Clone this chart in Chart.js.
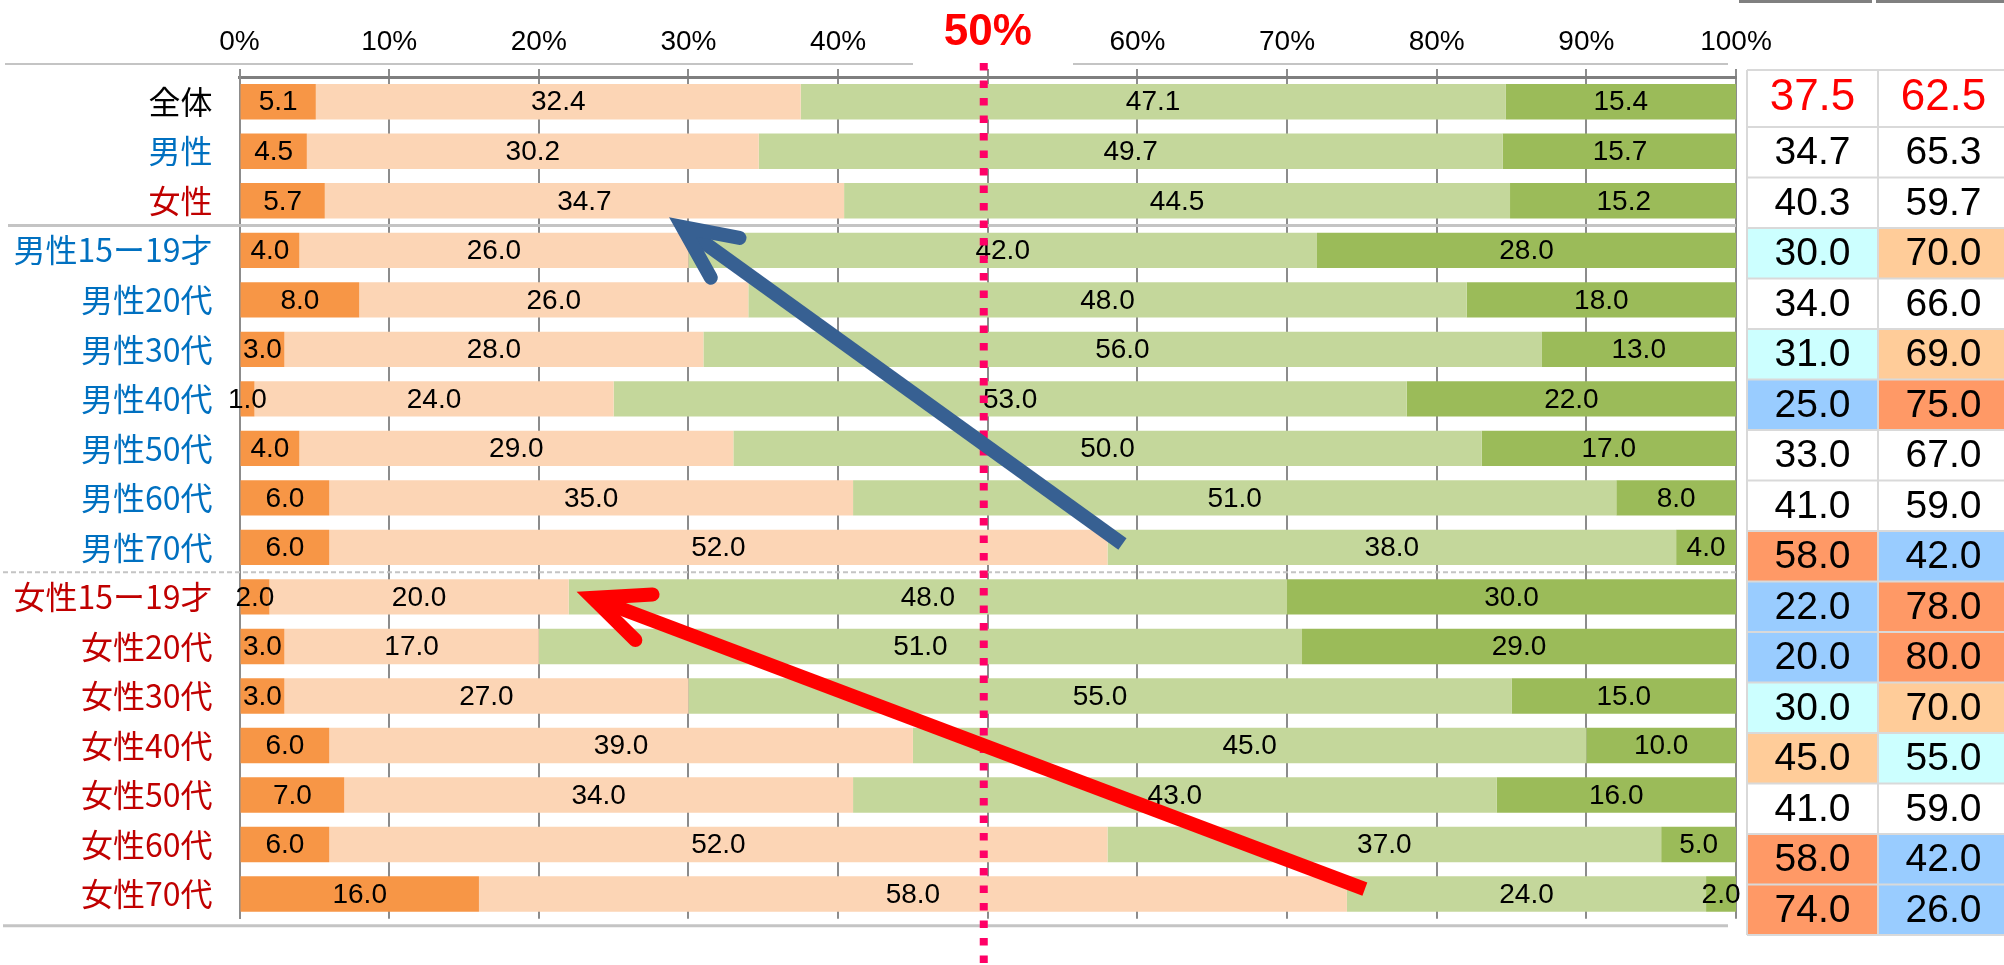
<!DOCTYPE html>
<html>
<head>
<meta charset="utf-8">
<script src="https://cdn.jsdelivr.net/npm/chart.js@4.4.1/dist/chart.umd.min.js"></script>
<style>
  html, body { margin: 0; padding: 0; background: #fff; }
  canvas { display: block; }
</style>
</head>
<body>
<canvas id="chart" width="2004" height="965"></canvas>
<script>
// categories (rows top to bottom)
var categories = ['全体', '男性', '女性',
    '男性15ー19才', '男性20代', '男性30代', '男性40代', '男性50代', '男性60代', '男性70代',
    '女性15ー19才', '女性20代', '女性30代', '女性40代', '女性50代', '女性60代', '女性70代'];

// four answer groups, % of each row
var seriesA = [5.1, 4.5, 5.7, 4.0, 8.0, 3.0, 1.0, 4.0, 6.0, 6.0, 2.0, 3.0, 3.0, 6.0, 7.0, 6.0, 16.0];
var seriesB = [32.4, 30.2, 34.7, 26.0, 26.0, 28.0, 24.0, 29.0, 35.0, 52.0, 20.0, 17.0, 27.0, 39.0, 34.0, 52.0, 58.0];
var seriesC = [47.1, 49.7, 44.5, 42.0, 48.0, 56.0, 53.0, 50.0, 51.0, 38.0, 48.0, 51.0, 55.0, 45.0, 43.0, 37.0, 24.0];
var seriesD = [15.4, 15.7, 15.2, 28.0, 18.0, 13.0, 22.0, 17.0, 8.0, 4.0, 30.0, 29.0, 15.0, 10.0, 16.0, 5.0, 2.0];

// summary table on the right
var tableLeft = [37.5, 34.7, 40.3, 30.0, 34.0, 31.0, 25.0, 33.0, 41.0, 58.0, 22.0, 20.0, 30.0, 45.0, 41.0, 58.0, 74.0];
var tableRight = [62.5, 65.3, 59.7, 70.0, 66.0, 69.0, 75.0, 67.0, 59.0, 42.0, 78.0, 80.0, 70.0, 55.0, 59.0, 42.0, 26.0];

// x axis ticks
var tickValues = [0, 10, 20, 30, 40, 50, 60, 70, 80, 90, 100];

// arrows, in (value %, row index)
var blueArrow = { from: [59.0, 8.93], to: [29.6, 2.53] };
var redArrow = { from: [75.2, 15.9], to: [23.6, 10.02] };

var W = '#FFFFFF', CY = '#CCFFFF', LO = '#FFCC99', BL = '#99CCFF', OR = '#FF9966';
var cellFill = [
    [W, W], [W, W], [W, W], [CY, LO], [W, W], [CY, LO], [BL, OR], [W, W], [W, W], [OR, BL],
    [BL, OR], [BL, OR], [CY, LO], [LO, CY], [W, W], [OR, BL], [OR, BL]
];

function labelColor(name) {
    if (name.indexOf('男性') === 0) return '#0070C0';
    if (name.indexOf('女性') === 0) return '#C00000';
    return '#000000';
}

function drawArrow(ctx, x1, y1, x2, y2, color, width, headLen, headAng) {
    var a = Math.atan2(y1 - y2, x1 - x2);
    ctx.save();
    ctx.strokeStyle = color;
    ctx.lineWidth = width;
    ctx.lineCap = 'butt';
    ctx.beginPath();
    ctx.moveTo(x1, y1);
    ctx.lineTo(x2 + 8 * Math.cos(a), y2 + 8 * Math.sin(a));
    ctx.stroke();
    ctx.lineCap = 'round';
    ctx.lineJoin = 'miter';
    ctx.beginPath();
    ctx.moveTo(x2 + headLen * Math.cos(a + headAng), y2 + headLen * Math.sin(a + headAng));
    ctx.lineTo(x2, y2);
    ctx.lineTo(x2 + headLen * Math.cos(a - headAng), y2 + headLen * Math.sin(a - headAng));
    ctx.stroke();
    ctx.restore();
}

var extrasPlugin = {
    id: 'extras',
    beforeDatasetsDraw: function (chart) {
        var ctx = chart.ctx, y = chart.scales.y, area = chart.chartArea;
        function gapY(i) { return (y.getPixelForValue(i - 1) + y.getPixelForValue(i)) / 2; }
        ctx.save();
        ctx.strokeStyle = '#C4C4C4';
        ctx.lineWidth = 3;
        ctx.beginPath();
        ctx.moveTo(8, gapY(3));
        ctx.lineTo(area.right, gapY(3));
        ctx.stroke();
        ctx.lineWidth = 2;
        ctx.setLineDash([5, 3]);
        ctx.beginPath();
        ctx.moveTo(3, gapY(10));
        ctx.lineTo(area.right, gapY(10));
        ctx.stroke();
        ctx.restore();
    },
    afterDraw: function (chart) {
        var ctx = chart.ctx, x = chart.scales.x, y = chart.scales.y, area = chart.chartArea;

        // light lines above and below the plot
        ctx.save();
        ctx.strokeStyle = '#C4C4C4';
        ctx.lineWidth = 2;
        ctx.beginPath();
        ctx.moveTo(5, 64); ctx.lineTo(913, 64);
        ctx.moveTo(1073, 64); ctx.lineTo(area.right - 8, 64);
        ctx.stroke();
        ctx.lineWidth = 3;
        ctx.beginPath();
        ctx.moveTo(3, area.bottom + 7); ctx.lineTo(area.right - 8, area.bottom + 7);
        ctx.stroke();
        ctx.restore();

        // value labels inside the bars
        ctx.save();
        ctx.font = '28px "Liberation Sans", Arial, sans-serif';
        ctx.fillStyle = '#000';
        ctx.textAlign = 'center';
        ctx.textBaseline = 'middle';
        chart.data.datasets.forEach(function (ds, di) {
            chart.getDatasetMeta(di).data.forEach(function (bar, i) {
                ctx.fillText(ds.data[i].toFixed(1), (bar.x + bar.base) / 2, bar.y + 1);
            });
        });
        ctx.restore();

        // 50% marker line
        var px = x.getPixelForValue(50) - 4;
        ctx.save();
        ctx.strokeStyle = '#FF0066';
        ctx.lineWidth = 8;
        ctx.setLineDash([7.5, 10]);
        ctx.beginPath();
        ctx.moveTo(px, 63);
        ctx.lineTo(px, chart.height);
        ctx.stroke();
        ctx.restore();

        // arrows
        drawArrow(ctx, x.getPixelForValue(blueArrow.from[0]), y.getPixelForValue(blueArrow.from[1]),
            x.getPixelForValue(blueArrow.to[0]), y.getPixelForValue(blueArrow.to[1]),
            '#376092', 14, 58, 25 * Math.PI / 180);
        drawArrow(ctx, x.getPixelForValue(redArrow.from[0]), y.getPixelForValue(redArrow.from[1]),
            x.getPixelForValue(redArrow.to[0]), y.getPixelForValue(redArrow.to[1]),
            '#FF0000', 14, 60, 24 * Math.PI / 180);

        // table on the right
        var tx0 = area.right + 11, colW = 131, ty0 = 70, h0 = 57, rh = 50.5;
        ctx.save();
        ctx.fillStyle = '#808080';
        ctx.fillRect(area.right + 3, 0, 133, 3);
        ctx.fillRect(area.right + 140, 0, 140, 3);
        ctx.textAlign = 'center';
        ctx.textBaseline = 'middle';
        for (var r = 0; r < categories.length; r++) {
            var top = r === 0 ? ty0 : ty0 + h0 + (r - 1) * rh;
            var h = r === 0 ? h0 : rh;
            var vals = [tableLeft[r], tableRight[r]];
            for (var c = 0; c < 2; c++) {
                var cx = tx0 + c * colW;
                ctx.fillStyle = cellFill[r][c];
                ctx.fillRect(cx, top, colW, h);
                ctx.fillStyle = r === 0 ? '#FF0000' : '#000000';
                ctx.font = (r === 0 ? '44px' : '39px') + ' "Liberation Sans", Arial, sans-serif';
                ctx.fillText(vals[c].toFixed(1), cx + colW / 2, top + h / 2 + (r === 0 ? -1 : 1));
            }
        }
        ctx.strokeStyle = '#D9D9D9';
        ctx.lineWidth = 2;
        ctx.beginPath();
        var bottom = ty0 + h0 + (categories.length - 1) * rh;
        for (var r2 = 0; r2 <= categories.length; r2++) {
            var ly = r2 === 0 ? ty0 : ty0 + h0 + (r2 - 1) * rh;
            ctx.moveTo(tx0, ly); ctx.lineTo(tx0 + 2 * colW + 10, ly);
        }
        for (var c2 = 0; c2 <= 2; c2++) {
            ctx.moveTo(tx0 + c2 * colW, ty0); ctx.lineTo(tx0 + c2 * colW, bottom);
        }
        ctx.stroke();
        ctx.restore();
    }
};

var barColors = ['#F79646', '#FCD5B5', '#C4D79B', '#9BBB59'];
var seriesList = [seriesA, seriesB, seriesC, seriesD];

new Chart(document.getElementById('chart').getContext('2d'), {
    type: 'bar',
    data: {
        labels: categories,
        datasets: seriesList.map(function (s, i) {
            return {
                data: s,
                backgroundColor: barColors[i],
                borderWidth: 0,
                barPercentage: 0.714,
                categoryPercentage: 1.0
            };
        })
    },
    options: {
        indexAxis: 'y',
        responsive: false,
        animation: false,
        devicePixelRatio: 1,
        layout: { padding: { top: 0, left: 0, right: 268, bottom: 35 } },
        plugins: {
            legend: { display: false },
            tooltip: { enabled: false }
        },
        scales: {
            x: {
                position: 'top',
                stacked: true,
                min: 0,
                max: 100,
                afterFit: function (s) { s.height = 77; },
                afterBuildTicks: function (s) {
                    s.ticks = tickValues.map(function (v) { return { value: v }; });
                },
                grid: { color: '#8C8C8C', lineWidth: 2, tickLength: 8, drawTicks: true },
                border: { color: '#7F7F7F', width: 3 },
                ticks: {
                    padding: 10,
                    maxRotation: 0,
                    autoSkip: false,
                    callback: function (v) { return v + '%'; },
                    color: function (c) { return c.tick && c.tick.value === 50 ? '#FF0000' : '#000000'; },
                    font: function (c) {
                        if (c.tick && c.tick.value === 50) {
                            return { family: '"Liberation Sans", Arial, sans-serif', size: 44, weight: 'bold' };
                        }
                        return { family: '"Liberation Sans", Arial, sans-serif', size: 28 };
                    }
                }
            },
            y: {
                stacked: true,
                afterFit: function (s) { s.width = 239.5; },
                grid: { display: false, drawTicks: false },
                border: { display: true, color: '#8C8C8C', width: 2 },
                ticks: {
                    padding: 27,
                    autoSkip: false,
                    font: { family: '"Noto Sans CJK JP", sans-serif', size: 32 },
                    color: function (c) { return labelColor(categories[c.index]); }
                }
            }
        }
    },
    plugins: [extrasPlugin]
});
</script>
</body>
</html>
